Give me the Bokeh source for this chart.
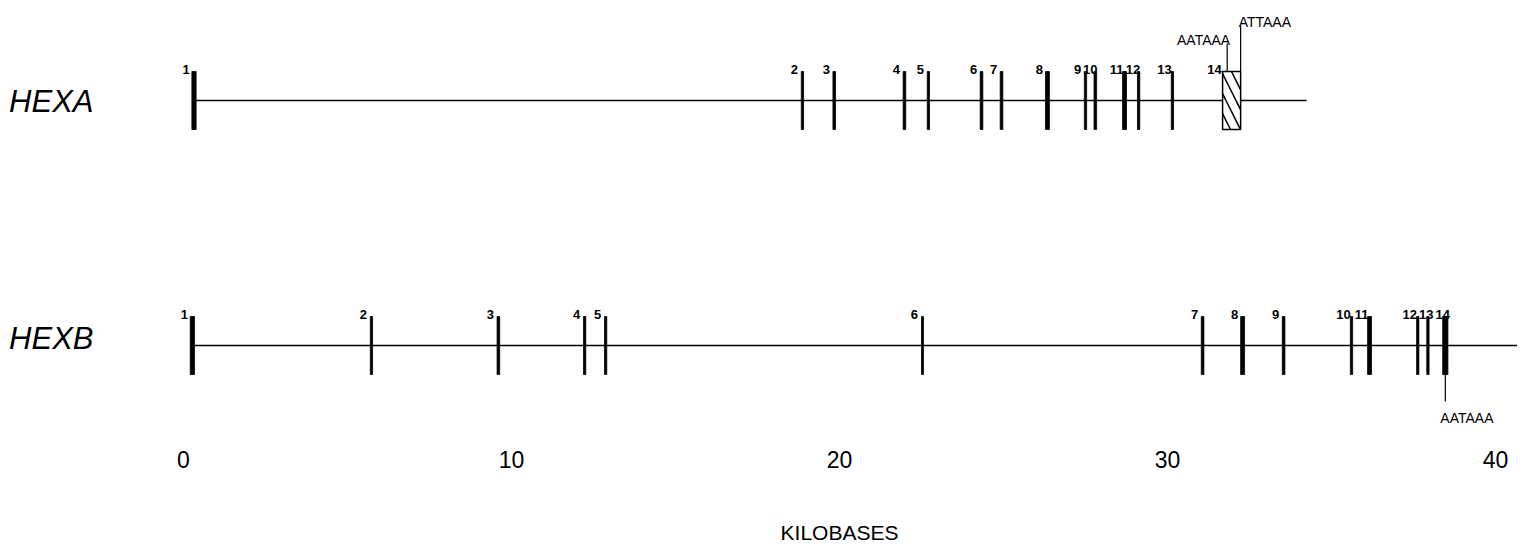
from bokeh.plotting import figure
from bokeh.models import Range1d, LinearAxis, FixedTicker, ColumnDataSource
from bokeh.core.properties import value
from bokeh.embed import file_html
from bokeh.resources import INLINE

# ---------------- data (kilobases) ----------------
genes = ["HEXA", "HEXB"]

hexa_exon_numbers = ["1", "2", "3", "4", "5", "6", "7", "8", "9", "10", "11", "12", "13"]
hexa_exon_kb = [0.32, 18.87, 19.84, 21.98, 22.71, 24.33, 24.94, 26.34, 27.50, 27.80, 28.69, 29.12, 30.15]
hexa_exon_len_kb = [0.13, 0.07, 0.08, 0.08, 0.07, 0.08, 0.08, 0.12, 0.07, 0.08, 0.12, 0.07, 0.07]
hexa_last_exon_number = "14"
hexa_last_exon_start_kb = 31.68
hexa_last_exon_end_kb = 32.23
hexa_gene_end_kb = 34.24
hexa_signals = ["AATAAA", "ATTAAA"]
hexa_signal_kb = [31.82, 32.23]

hexb_exon_numbers = ["1", "2", "3", "4", "5", "6", "7", "8", "9", "10", "11", "12", "13", "14"]
hexb_exon_kb = [0.27, 5.73, 9.60, 12.23, 12.87, 22.53, 31.07, 32.29, 33.54, 35.61, 36.16, 37.63, 37.94, 38.47]
hexb_exon_len_kb = [0.13, 0.07, 0.08, 0.07, 0.07, 0.06, 0.08, 0.12, 0.08, 0.07, 0.12, 0.07, 0.07, 0.16]
hexb_gene_end_kb = 41.16
hexb_signals = ["AATAAA"]
hexb_signal_kb = [38.47]

axis_ticks = [0, 10, 20, 30, 40]
axis_title = "KILOBASES"

# ---------------- layout ----------------
FONT = "Liberation Sans"
LEFT = 161
FRAME_W, FRAME_H = 1356, 440
X0, X1 = -0.671, 40.671
PX_PER_KB = FRAME_W / (X1 - X0)
track_y = {"HEXA": 100, "HEXB": 345}      # flipped y range: units are pixels from top
name_y = {"HEXA": 101, "HEXB": 338}
HALF = 29                                 # half exon height
NUM_SIZE = 13                             # exon number font size (px)

p = figure(frame_width=FRAME_W, frame_height=FRAME_H,
           x_range=Range1d(X0, X1), y_range=Range1d(FRAME_H, 0),
           x_axis_type=None, y_axis_type=None,
           toolbar_location=None, output_backend="svg",
           min_border_left=LEFT, min_border_right=0, min_border_top=0, min_border_bottom=0,
           outline_line_color=None, background_fill_color="white",
           border_fill_color="white")

xaxis = LinearAxis(ticker=FixedTicker(ticks=axis_ticks), axis_label=axis_title,
                   axis_line_color=None, major_tick_line_color=None,
                   minor_tick_line_color=None, major_label_standoff=4,
                   axis_label_standoff=50)
xaxis.major_label_text_font = FONT
xaxis.major_label_text_font_size = "23px"
xaxis.major_label_text_color = "black"
xaxis.axis_label_text_font = FONT
xaxis.axis_label_text_font_size = "21px"
xaxis.axis_label_text_font_style = "normal"
xaxis.axis_label_text_color = "black"
p.add_layout(xaxis, "below")

yaxis = LinearAxis(ticker=FixedTicker(ticks=[name_y[g] for g in genes]),
                   major_label_overrides={name_y[g]: g for g in genes},
                   axis_line_color=None, major_tick_line_color=None,
                   minor_tick_line_color=None, major_label_standoff=62)
yaxis.major_label_text_font = FONT
yaxis.major_label_text_font_size = "31px"
yaxis.major_label_text_font_style = "italic"
yaxis.major_label_text_color = "black"
p.add_layout(yaxis, "left")


def label_offsets(kbs, labels):
    """Place numbers up-left of each exon, nudging crowded ones apart."""
    centers = []
    for kb, lab in zip(kbs, labels):
        c = (kb - X0) * PX_PER_KB - 8
        w = len(lab) * 0.556 * NUM_SIZE
        if centers:
            pc, pw = centers[-1]
            if c - w / 2 < pc + pw / 2 + 2:
                c = pc + (pw + w) / 2 + 2
        centers.append((c, w))
    return [c - (kb - X0) * PX_PER_KB for (c, _), kb in zip(centers, kbs)]


def draw_gene(name, nums, kb, lens, end_kb, extra_kb=None, extra_num=None):
    y = track_y[name]
    p.segment(x0=[kb[0]], y0=[y], x1=[end_kb], y1=[y], line_color="black", line_width=1.6)
    src = ColumnDataSource(dict(x=kb, w=lens, t=[y - HALF] * len(kb), b=[y + HALF] * len(kb)))
    p.vbar(x="x", width="w", top="t", bottom="b", source=src,
           fill_color="black", line_color="black", line_width=0.8)
    lx = list(kb) + ([extra_kb] if extra_kb is not None else [])
    ll = list(nums) + ([extra_num] if extra_num is not None else [])
    lsrc = ColumnDataSource(dict(x=lx, y=[y - HALF - 2] * len(lx), lab=ll,
                                 dx=label_offsets(lx, ll)))
    p.text(x="x", y="y", text="lab", source=lsrc, x_offset="dx",
           text_align="center", text_baseline="alphabetic",
           text_font=value(FONT), text_font_size=f"{NUM_SIZE}px", text_font_style="bold",
           text_color="black")


draw_gene("HEXA", hexa_exon_numbers, hexa_exon_kb, hexa_exon_len_kb, hexa_gene_end_kb,
          extra_kb=hexa_last_exon_start_kb, extra_num=hexa_last_exon_number)
draw_gene("HEXB", hexb_exon_numbers, hexb_exon_kb, hexb_exon_len_kb, hexb_gene_end_kb)

# HEXA last (3'-UTR) exon as hatched box
ya = track_y["HEXA"]
p.quad(left=[hexa_last_exon_start_kb], right=[hexa_last_exon_end_kb],
       top=[ya - HALF], bottom=[ya + HALF], fill_color="white",
       line_color="black", line_width=1.5, hatch_pattern="\\",
       hatch_scale=20, hatch_weight=1.5, hatch_color="black")

# polyadenylation signals - HEXA (above the box, staggered)
for i, (sig, kb) in enumerate(zip(hexa_signals, hexa_signal_kb)):
    top = ya - HALF - 28 - 18 * i
    p.segment(x0=[kb], y0=[ya - HALF], x1=[kb], y1=[top], line_color="black", line_width=1.2)
    p.text(x=[kb], y=[top - 4], text=[sig],
           x_offset=(3 if i == 0 else -2),
           text_align=("right" if i == 0 else "left"), text_baseline="alphabetic",
           text_font=value(FONT), text_font_size="14px", text_color="black")

# polyadenylation signal - HEXB (below the last exon)
yb = track_y["HEXB"]
for sig, kb in zip(hexb_signals, hexb_signal_kb):
    bot = yb + HALF + 27
    p.segment(x0=[kb], y0=[yb + HALF], x1=[kb], y1=[bot], line_color="black", line_width=1.2)
    p.text(x=[kb], y=[bot + 16], text=[sig], x_offset=-5,
           text_align="left", text_baseline="alphabetic",
           text_font=value(FONT), text_font_size="14px", text_color="black")

open("out.html", "w").write(file_html(p, INLINE))
